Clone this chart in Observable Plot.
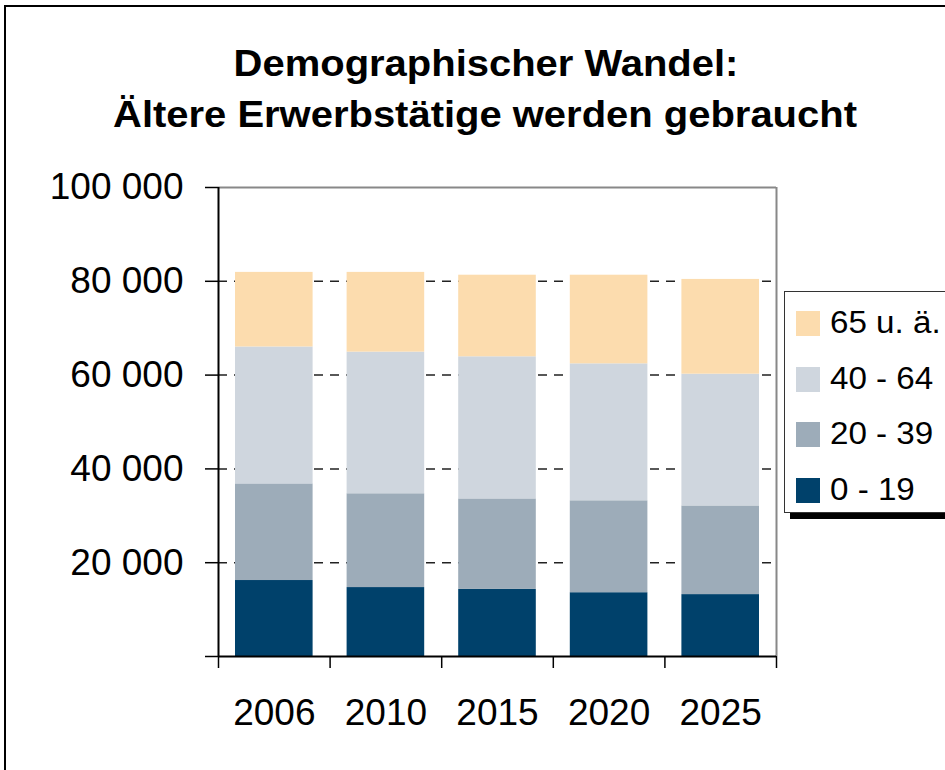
<!DOCTYPE html>
<html>
<head>
<meta charset="utf-8">
<script src="https://cdn.jsdelivr.net/npm/d3@7"></script>
<script src="https://cdn.jsdelivr.net/npm/@observablehq/plot@0.6"></script>
<style>
  html, body { margin: 0; padding: 0; background: #fff; }
  body { width: 945px; height: 770px; overflow: hidden; position: relative; font-family: "Liberation Sans", Arial, sans-serif; }
  #frame { position: absolute; left: 4px; top: 5px; width: 1200px; height: 1200px; border-left: 2px solid #000; border-top: 2px solid #000; pointer-events: none; }
  #title { height: 170px; position: relative; }
  #title div { position: absolute; font-weight: bold; font-size: 36px; line-height: 36px; color: #000; white-space: nowrap; }
  #title .l1 { top: 46px; left: 486px; transform: translateX(-50%) scaleX(1.11); }
  #title .l2 { top: 97px; left: 485px; transform: translateX(-50%) scaleX(1.11); }
  #legend { position: absolute; left: 784px; top: 291px; width: 220px; height: 220px; border: 1px solid #333; background: #fff; box-shadow: 6px 6px 0 #000; }
  .item { position: absolute; left: 11px; height: 26px; }
  .sw { position: absolute; left: 0; top: 0; width: 24px; height: 25px; }
  .lab { position: absolute; left: 34px; top: -6px; font-size: 31px; line-height: 36px; white-space: nowrap; color: #000; transform-origin: left center; transform: scaleX(1.07); }
</style>
</head>
<body>
<div id="title"><div class="l1">Demographischer Wandel:</div><div class="l2">Ältere Erwerbstätige werden gebraucht</div></div>
<div id="chart"></div>
<div id="legend"></div>
<div id="frame"></div>
<script>
const years = ["2006", "2010", "2015", "2020", "2025"];
const groups = ["0 - 19", "20 - 39", "40 - 64", "65 u. ä."];
const v0_19  = [16200, 14700, 14300, 13600, 13200];
const v20_39 = [20600, 20000, 19300, 19600, 18900];
const v40_64 = [29200, 30200, 30300, 29200, 28100];
const v65    = [15900, 17000, 17400, 18900, 20200];
const colors = ["#00416b", "#9dacb9", "#cfd6de", "#fcdcae"];
const yTicks = [0, 20000, 40000, 60000, 80000, 100000];
const gridTicks = [20000, 40000, 60000, 80000];

const series = [v0_19, v20_39, v40_64, v65];
const rows = [];
years.forEach((year, i) => {
  let acc = 0;
  groups.forEach((g, k) => {
    const v = series[k][i];
    rows.push({year, x1: i, x2: i + 1, group: g, y1: acc, y2: acc + v});
    acc += v;
  });
});
const boundaries = d3.range(years.length + 1);
const centers = years.map((_, i) => i + 0.5);
const fmt = d => d === 0 ? "" : d3.format(",")(d).replace(/,/g, " ");

const plot = Plot.plot({
  width: 945,
  height: 600,
  marginTop: 17,
  marginBottom: 114,
  marginLeft: 218,
  marginRight: 169,
  style: {fontFamily: "'Liberation Sans', Arial, sans-serif", color: "#000", background: "transparent", overflow: "visible"},
  x: {domain: [0, years.length], axis: null},
  y: {domain: [0, 100000], axis: null},
  color: {domain: groups, range: colors},
  marks: [
    Plot.ruleY(gridTicks, {stroke: "#222", strokeWidth: 1.5, strokeDasharray: "9,7"}),
    Plot.rect(rows, {x1: "x1", x2: "x2", y1: "y1", y2: "y2", fill: "group", insetLeft: 17, insetRight: 17}),
    Plot.ruleY([100000], {stroke: "#888", strokeWidth: 2}),
    Plot.ruleX([years.length], {stroke: "#888", strokeWidth: 2}),
    Plot.ruleY([0], {stroke: "#000", strokeWidth: 2}),
    Plot.ruleX([0], {stroke: "#000", strokeWidth: 2}),
    Plot.axisY({ticks: yTicks, tickSize: 13, tickPadding: 22, tickFormat: fmt, fontSize: 37, stroke: "#000", strokeWidth: 1.5}),
    Plot.axisX({ticks: boundaries, tickSize: 12, tickFormat: () => "", stroke: "#000", strokeWidth: 1.5}),
    Plot.axisX({ticks: centers, tickSize: 0, tickPadding: 42, tickFormat: d => years[Math.floor(d)], fontSize: 37})
  ]
});
document.getElementById("chart").appendChild(plot);

// Legend (reverse order, as in reference)
const legend = document.getElementById("legend");
const order = groups.map((g, k) => k).reverse();
order.forEach((k, j) => {
  const item = document.createElement("div");
  item.className = "item";
  item.style.top = (19 + j * 55.5) + "px";
  const sw = document.createElement("div");
  sw.className = "sw";
  sw.style.background = colors[k];
  const lab = document.createElement("div");
  lab.className = "lab";
  lab.textContent = groups[k];
  item.appendChild(sw);
  item.appendChild(lab);
  legend.appendChild(item);
});
</script>
</body>
</html>
